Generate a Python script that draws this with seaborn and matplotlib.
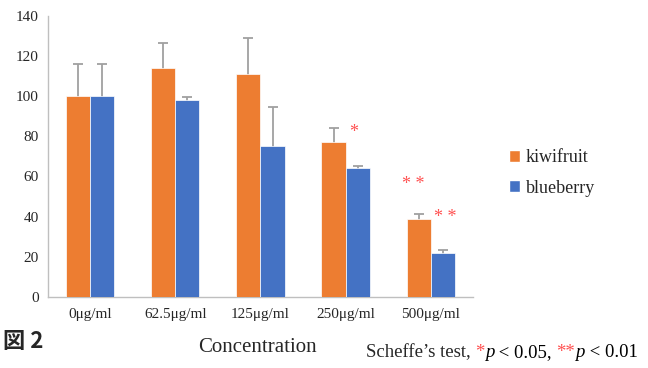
import numpy as np
import pandas as pd
import seaborn as sns
import matplotlib.pyplot as plt
from matplotlib.patches import Patch

categories = ["0μg/ml", "62.5μg/ml", "125μg/ml", "250μg/ml", "500μg/ml"]
kiwifruit = [100, 114, 111, 77, 39]
kiwifruit_err = [16, 12.5, 18, 7, 2.5]
blueberry = [100, 98, 75, 64, 22]
blueberry_err = [16, 1.5, 19.5, 1, 1.5]
series = ["kiwifruit", "blueberry"]
colors = ["#ED7D31", "#4472C4"]

df = pd.DataFrame({
    "conc": categories * 2,
    "value": kiwifruit + blueberry,
    "err": kiwifruit_err + blueberry_err,
    "sample": [series[0]] * 5 + [series[1]] * 5,
})

sns.set_style("white")
plt.rcParams["font.family"] = ["Liberation Serif", "DejaVu Serif"]

fig = plt.figure(figsize=(6.48, 3.68), dpi=100)
ax = fig.add_axes([0.074, 0.193, 0.656, 0.764])

sns.barplot(data=df, x="conc", y="value", hue="sample", palette=colors,
            width=0.565, errorbar=None, saturation=1, legend=False, ax=ax,
            edgecolor="white", linewidth=0.5, zorder=3)

# error bars: drawn behind the bars so only the upper half shows
for p, v, e in zip(ax.patches, df["value"], df["err"]):
    cx = p.get_x() + p.get_width() / 2
    ax.errorbar(cx, v, yerr=e, fmt="none", ecolor="#a0a0a0",
                elinewidth=1.3, capsize=3.5, capthick=1.3, zorder=2)

# significance marks
star_kw = dict(color="#FF5050", ha="center", va="center", fontsize=13)
ax.text(3.1, 82, "*", **star_kw)
ax.text(3.8, 56, "* *", **star_kw)
ax.text(4.17, 39.5, "* *", **star_kw)

ax.set_ylim(0, 140)
ax.set_yticks(range(0, 141, 20))
ax.set_xlim(-0.5, 4.5)
ax.set_xticks(np.arange(-0.5, 5, 1))
ax.set_xticklabels([])
ax.set_xticks(range(5), minor=True)
ax.set_xticklabels(categories, minor=True)
ax.tick_params(axis="x", which="major", length=4, color="#bfbfbf", direction="out")
ax.tick_params(axis="x", which="minor", length=0, labelsize=11, pad=8)
ax.tick_params(axis="y", length=3, color="#bfbfbf", labelsize=11)
ax.set_xlabel("")
ax.set_ylabel("")
for s in ["top", "right"]:
    ax.spines[s].set_visible(False)
for s in ["left", "bottom"]:
    ax.spines[s].set_color("#bfbfbf")
    ax.spines[s].set_linewidth(1)

handles = [Patch(facecolor=c, label=l) for c, l in zip(colors, series)]
fig.legend(handles=handles, loc="center left", bbox_to_anchor=(0.76, 0.53),
           frameon=False, fontsize=13, handlelength=0.65, handleheight=0.65,
           handletextpad=0.3, labelspacing=0.75)

fig.text(0.005, 0.04, "図 2", fontsize=16, fontweight="bold",
         family=["Noto Sans CJK JP", "DejaVu Sans"], va="bottom")
fig.text(0.397, 0.03, "Concentration", fontsize=15, ha="center", va="bottom")

# footnote, built piece by piece so the asterisks can be red
pieces = [("*", "#FF5050", "normal"), ("p", "black", "italic"),
          (" < 0.05, ", "black", "normal"), ("**", "#FF5050", "normal"),
          ("p", "black", "italic"), (" < 0.01", "black", "normal")]
prev = fig.text(0.565, 0.02, "Scheffe’s test, ", fontsize=13.5, va="bottom")
for txt, col, sty in pieces:
    prev = ax.annotate(txt, xy=(1, 0), xycoords=prev, color=col, style=sty,
                       fontsize=13.5, va="bottom", annotation_clip=False)

fig.savefig("out.png", dpi=100)
